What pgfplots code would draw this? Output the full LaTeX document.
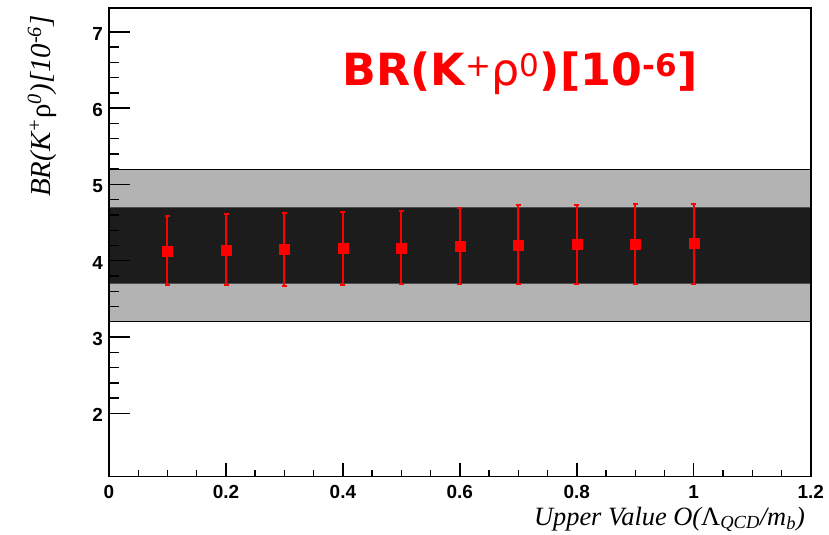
\documentclass[border=0pt]{standalone}
\usepackage{fontspec}
\setmainfont{Liberation Sans}
\newfontfamily\seriffont{Liberation Serif}
\newfontfamily\titlefont{DejaVu Sans}
\usepackage{pgfplots}
\pgfplotsset{compat=1.18}
\definecolor{lightband}{RGB}{179,179,179}
\definecolor{darkband}{RGB}{28,28,28}
\pgfplotsset{
  frame/.style={
    at={(109bp,58.5bp)}, anchor=south west,
    scale only axis, width=701.7bp, height=468.7bp,
    xmin=0, xmax=1.2, ymin=1.172, ymax=7.315,
    tick align=inside,
    axis line style={line width=1.6bp},
    every tick/.style={black, line width=1.4bp},
    /pgf/number format/assume math mode=true,
    ticklabel style={font=\bfseries\fontsize{19}{19}\selectfont, inner sep=0pt},
  }
}
\begin{document}
\begin{tikzpicture}
\useasboundingbox (0,0) rectangle (829bp,535bp);
\begin{axis}[frame,
  axis on top, clip=false,
  xtick=\empty,
  ytick={2,3,4,5,6,7},
  minor y tick num=4,
  ytick pos=left,
  major tick length=21bp, minor tick length=10bp,
  yticklabel style={anchor=east, xshift=-6bp, yshift=-2bp},
]
\addplot[fill=lightband, draw=black, line width=1.3bp] coordinates {(0,3.2) (1.2,3.2) (1.2,5.2) (0,5.2)} -- cycle;
\addplot[fill=darkband, draw=black!70, line width=0.8bp] coordinates {(0,3.7) (1.2,3.7) (1.2,4.7) (0,4.7)} -- cycle;
\addplot[only marks, mark=square*, mark size=5bp, color=red,
  error bars/.cd, y dir=both, y explicit,
  error bar style={line width=2bp, red},
  error mark=|, error mark options={line width=2bp, mark size=2.5bp, red}]
 coordinates {
 (0.1,4.12) += (0,0.46) -= (0,0.44)
 (0.2002,4.14) += (0,0.47) -= (0,0.46)
 (0.3,4.15) += (0,0.48) -= (0,0.48)
 (0.4,4.16) += (0,0.48) -= (0,0.48)
 (0.5,4.17) += (0,0.48) -= (0,0.48)
 (0.6,4.19) += (0,0.50) -= (0,0.50)
 (0.7,4.21) += (0,0.52) -= (0,0.52)
 (0.8,4.22) += (0,0.51) -= (0,0.52)
 (0.9,4.22) += (0,0.52) -= (0,0.52)
 (1.0,4.23) += (0,0.52) -= (0,0.53)
 };
\end{axis}
\begin{axis}[frame,
  ytick=\empty,
  xtick={0,0.2,0.4,0.6,0.8,1,1.2},
  xticklabels={0,0.2,0.4,0.6,0.8,1,1.2},
  minor x tick num=3,
  xtick pos=bottom,
  major tick length=13bp, minor tick length=6bp,
  xticklabel style={anchor=north, yshift=-8.5bp},
]
\end{axis}
\node[anchor=base, text=red, inner sep=0pt, font=\titlefont\bfseries\fontsize{44.5}{44.5}\selectfont]
  at (520bp,449bp)
  {BR(K\textsuperscript{\mdseries +}{\mdseries ρ}\textsuperscript{\mdseries 0})[10\textsuperscript{-6}]};
\node[anchor=base east, rotate=90, inner sep=0pt, font=\seriffont\itshape\fontsize{29}{29}\selectfont]
  at (50bp,520bp)
  {BR(K\textsuperscript{+}{\upshape ρ}\textsuperscript{0})[10\textsuperscript{-6}]};
\node[anchor=base east, inner sep=0pt, font=\seriffont\itshape\fontsize{26.5}{26.5}\selectfont]
  at (805bp,10bp)
  {Upper Value O({\upshape Λ}\textsubscript{QCD}/m\textsubscript{b})};
\end{tikzpicture}
\end{document}
